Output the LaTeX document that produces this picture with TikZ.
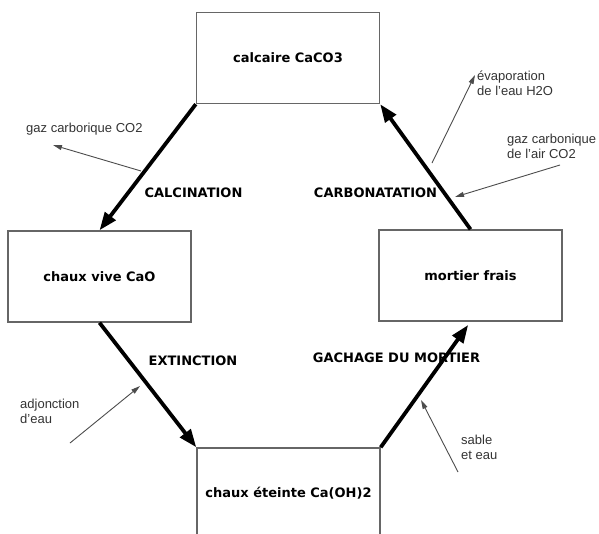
\documentclass[tikz,border=0pt]{standalone}
\usepackage{fontspec}
\setmainfont{Liberation Sans}
\newfontfamily\comicf{DejaVu Sans}
\usetikzlibrary{arrows.meta,calc}
\definecolor{boxgray}{gray}{0.40}
\definecolor{thingray}{gray}{0.30}
\begin{document}
\begin{tikzpicture}[x=1pt,y=-1pt,
  box/.style={draw=boxgray,line width=1.4pt,minimum width=183pt,minimum height=91pt,inner sep=0pt,
    font=\comicf\bfseries\fontsize{13}{15}\selectfont},
  proc/.style={font=\comicf\bfseries\fontsize{13}{15}\selectfont,inner sep=0pt},
  small/.style={font=\fontsize{13}{15}\selectfont,text=black!80,inner sep=0pt,align=left},
  thick arrow/.style={line width=3.8pt,-{Triangle[length=18pt,width=13pt]}},
  thin arrow/.style={draw=thingray,line width=0.9pt,-{Triangle[length=9pt,width=5pt]}}]
\useasboundingbox (0,0) rectangle (599,533);
\begin{scope}
\clip (0,0) rectangle (599,533);
\node[box] (top) at (288,58) {calcaire CaCO3};
\node[box] (left) at (99.5,276.5) {chaux vive CaO};
\node[box] (right) at (470.5,275.5) {mortier frais};
\node[box] (bot) at (288.5,493.5) {chaux éteinte Ca(OH)2};
\end{scope}

\draw[thick arrow] (top.south west) -- (left.north);
\draw[thick arrow] (right.north) -- (top.south east);
\draw[thick arrow] (left.south) -- (bot.north west);
\draw[thick arrow,shorten >=4pt] (bot.north east) -- (right.south);

\node[proc] (calc) at (193.5,193) {CALCINATION};
\node[proc] (carb) at (375.5,193) {CARBONATATION};
\node[proc] (ext) at (193,361) {EXTINCTION};
\node[proc] (gach) at (396.5,358) {GACHAGE DU MORTIER};

\node[small,anchor=west] (gaz) at (26,129) {gaz carborique CO2};
\node[small,anchor=north west] (evap) at (477,71) {évaporation\\de l'eau H2O};
\node[small,anchor=north west] (air) at (507,134) {gaz carbonique\\de l'air CO2};
\node[small,anchor=north west] (adj) at (20,399) {adjonction\\d'eau};
\node[small,anchor=north west] (sab) at (461,435) {sable\\et eau};

\coordinate (gazs) at (141,171);
\coordinate (gaze) at (53,145);
\coordinate (evs) at (432,163);
\coordinate (eve) at (475,75);
\coordinate (airs) at (560,165);
\coordinate (aire) at (455,197);
\coordinate (adjs) at (70,443);
\coordinate (adje) at (140,386);
\coordinate (sabs) at (458,472);
\coordinate (sabe) at (421,400);

\draw[thin arrow] (gazs) -- (gaze);
\draw[thin arrow] (evs) -- (eve);
\draw[thin arrow] (airs) -- (aire);
\draw[thin arrow] (adjs) -- (adje);
\draw[thin arrow] (sabs) -- (sabe);
\end{tikzpicture}
\end{document}
